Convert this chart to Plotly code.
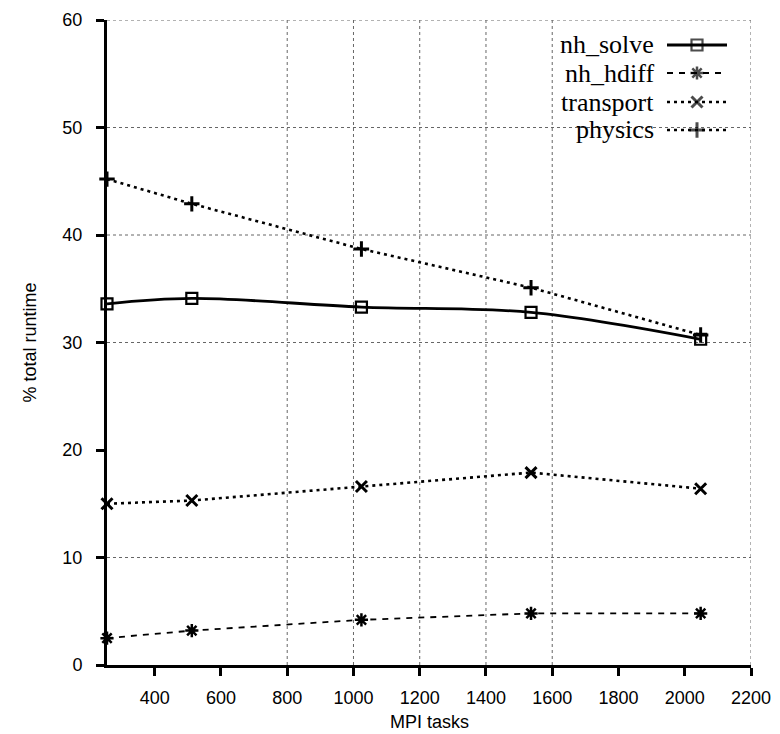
import plotly.graph_objects as go

# ---- data ----
mpi_tasks = [256, 512, 1024, 1536, 2048]
nh_solve = [33.6, 34.1, 33.3, 32.8, 30.3]
nh_hdiff = [2.5, 3.2, 4.2, 4.8, 4.8]
transport = [15.0, 15.3, 16.6, 17.9, 16.4]
physics = [45.2, 42.9, 38.7, 35.1, 30.7]

x_ticks = [400, 600, 800, 1000, 1200, 1400, 1600, 1800, 2000, 2200]
y_ticks = [0, 10, 20, 30, 40, 50, 60]
x_grid = [800, 1000, 1200, 1400, 1600, 2200]
y_grid = [10, 30, 40, 50, 60]

series = [
    ("nh_solve", nh_solve, dict(dash="solid", width=2.8), dict(symbol="square-open", size=11, line=dict(width=2.2)), "spline"),
    ("nh_hdiff", nh_hdiff, dict(dash="6px,6px", width=1.8), dict(symbol="asterisk-open", size=11, line=dict(width=2.5)), "linear"),
    ("transport", transport, dict(dash="3px,4px", width=2.6), dict(symbol="x-thin-open", size=11, line=dict(width=3)), "linear"),
    ("physics", physics, dict(dash="3px,4px", width=2.6), dict(symbol="cross-thin-open", size=11, line=dict(width=3)), "linear"),
]

fig = go.Figure()
for name, vals, ln, mk, shape in series:
    fig.add_trace(go.Scatter(
        x=mpi_tasks, y=vals, name=name, mode="lines+markers",
        line=dict(color="black", shape=shape, **ln),
        marker=dict(color="black", **mk),
        showlegend=False, cliponaxis=False,
    ))

# ---- grid (dotted) ----
shapes = []
for gx in x_grid:
    shapes.append(dict(type="line", xref="x", yref="y", x0=gx, x1=gx, y0=0, y1=60,
                       line=dict(color="#666", width=1, dash="dot"), layer="below"))
for gy in y_grid:
    shapes.append(dict(type="line", xref="x", yref="y", x0=256, x1=2200, y0=gy, y1=gy,
                       line=dict(color="#666", width=1, dash="dot"), layer="below"))

# ---- layout geometry (page pixels; the page body adds an 8px offset) ----
OFF = 8
PAGE_W, PAGE_H = 780, 734
L, R, T, B = 107, 751, 20, 665
W, H = PAGE_W - OFF, PAGE_H - OFF
def px(p):
    return (p - L) / (R - L)
def py(p):
    return (B - p) / (B - T)

# ---- custom legend (text left, key right) ----
shapes.append(dict(type="rect", xref="paper", yref="paper", x0=px(548), x1=px(746), y0=py(147), y1=py(21),
                   fillcolor="white", line=dict(width=0), layer="below"))

leg_rows = [45, 73, 102, 130]
annotations = []
for (name, vals, ln, mk, shape), ry in zip(series, leg_rows):
    annotations.append(dict(text=name, xref="paper", yref="paper", x=px(656), y=py(ry),
                            xanchor="right", yanchor="middle", showarrow=False,
                            font=dict(family="Liberation Serif", size=26, color="black")))
    fig.add_trace(go.Scatter(
        x=[px(667), px(697), px(727)], y=[py(ry)] * 3, xaxis="x2", yaxis="y2",
        mode="lines+markers", line=dict(color="black", **ln),
        marker=dict(color="black", **{**mk, "size": [0, mk["size"], 0]}),
        showlegend=False, hoverinfo="skip",
    ))

# ---- axis titles ----
annotations.append(dict(text="MPI tasks", xref="paper", yref="paper", x=0.5, y=py(722),
                        xanchor="center", yanchor="middle", showarrow=False,
                        font=dict(family="Liberation Sans", size=18, color="black")))
annotations.append(dict(text="% total runtime", xref="paper", yref="paper", x=px(29), y=0.5,
                        xanchor="center", yanchor="middle", showarrow=False, textangle=-90,
                        font=dict(family="Liberation Sans", size=18, color="black")))

fig.update_layout(
    width=W, height=H,
    margin=dict(l=L - OFF, r=PAGE_W - R, t=T - OFF, b=PAGE_H - B, autoexpand=False),
    paper_bgcolor="white", plot_bgcolor="white",
    font=dict(family="Liberation Sans", size=17, color="black"),
    showlegend=False,
    shapes=shapes, annotations=annotations,
    xaxis=dict(range=[256, 2200], tickvals=x_ticks, showgrid=False, zeroline=False,
               showline=True, linecolor="black", linewidth=3, automargin=False,
               ticks="outside", ticklen=8, tickwidth=3, tickcolor="black",
               ticklabelstandoff=6,
               tickfont=dict(size=18)),
    yaxis=dict(range=[0, 60], tickvals=y_ticks, showgrid=False, zeroline=False,
               showline=True, linecolor="black", linewidth=3, automargin=False,
               ticks="outside", ticklen=8, tickwidth=3, tickcolor="black",
               ticklabelstandoff=10,
               tickfont=dict(size=18)),
    xaxis2=dict(domain=[0, 1], range=[0, 1], overlaying="x", visible=False, fixedrange=True),
    yaxis2=dict(domain=[0, 1], range=[0, 1], overlaying="y", visible=False, fixedrange=True, anchor="x2"),
)

fig.write_html("out.html")
